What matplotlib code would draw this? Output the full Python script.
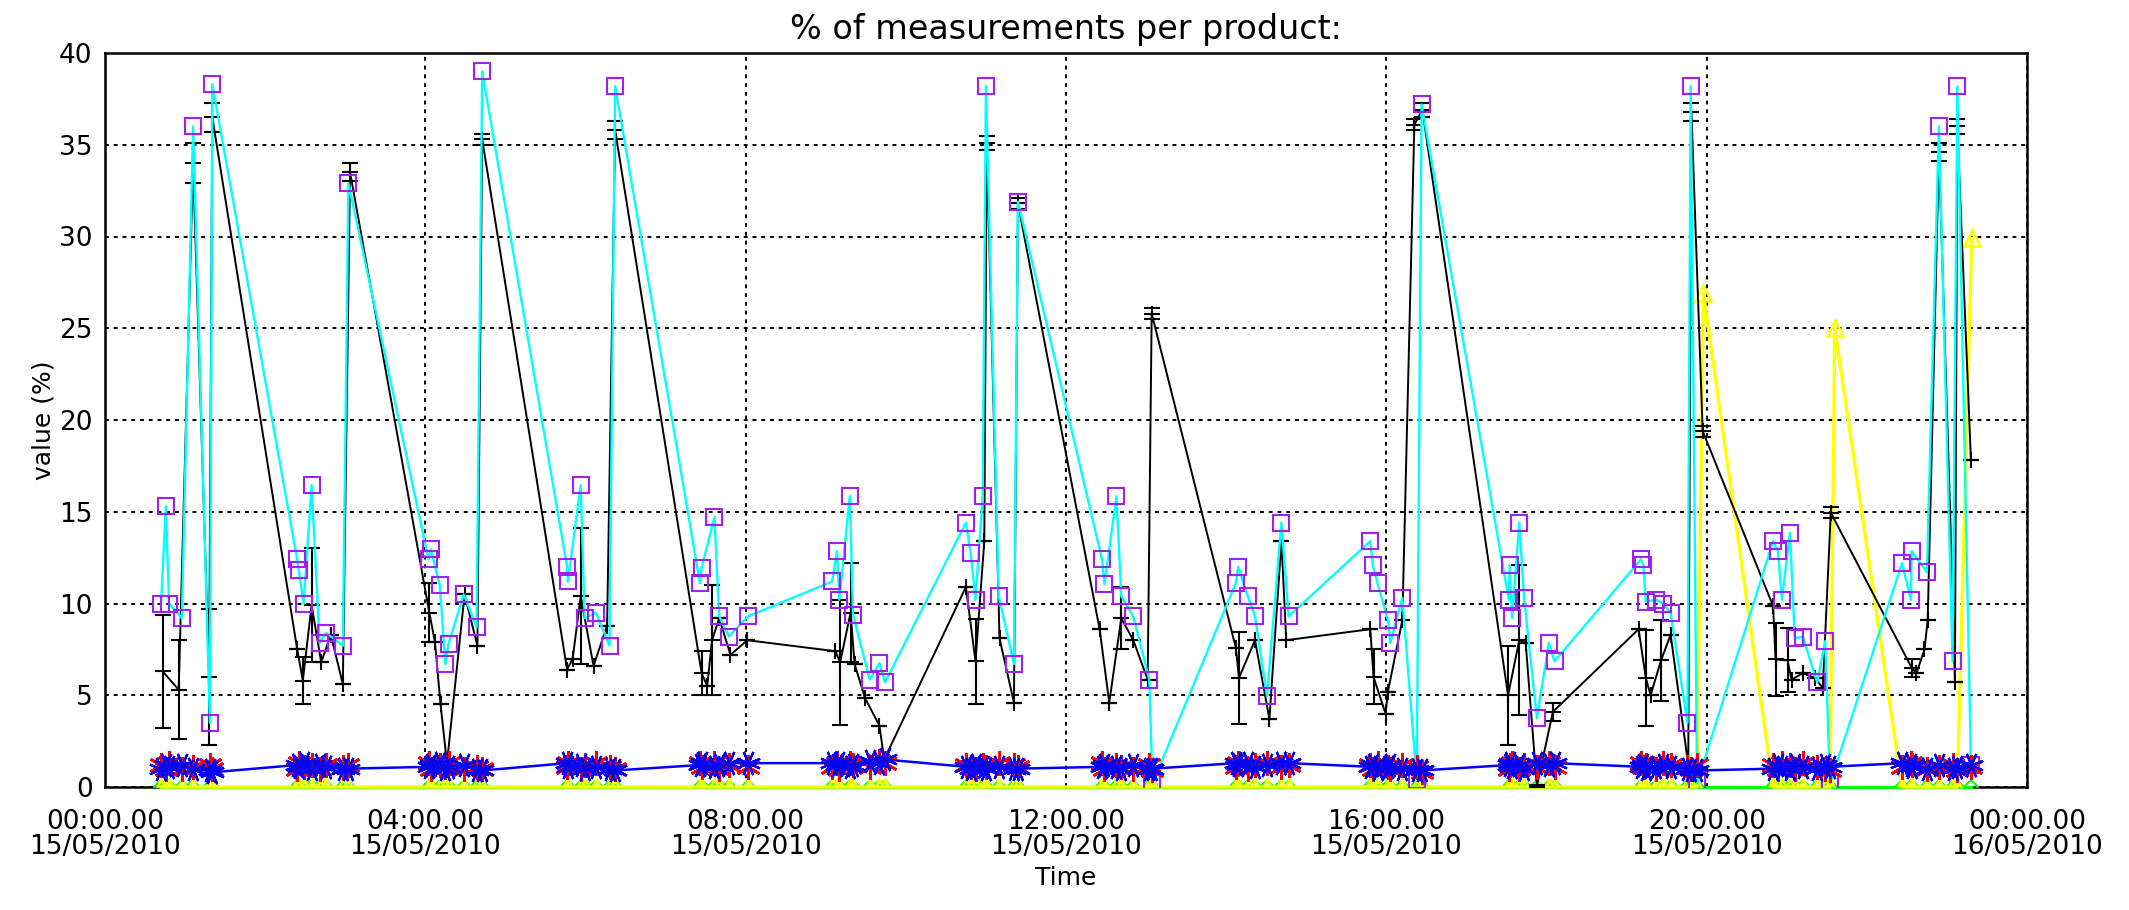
import numpy as np
import pandas as pd
import matplotlib
matplotlib.use("Agg")
import matplotlib.pyplot as plt
import matplotlib.dates as mdates

# ---------------- data (hours after 00:00 15/05/2010) ----------------
cyan_t = [0.70, 0.76, 0.80, 0.96, 1.10, 1.31, 1.34,
          2.40, 2.42, 2.48, 2.58, 2.68, 2.76, 2.97, 3.04,
          4.04, 4.07, 4.18, 4.25, 4.29, 4.48, 4.64, 4.71,
          5.77, 5.78, 5.94, 5.99, 6.13, 6.30, 6.37,
          7.43, 7.45, 7.61, 7.67, 7.79, 8.03,
          9.08, 9.14, 9.17, 9.30, 9.34, 9.55, 9.67, 9.74,
          10.75, 10.81, 10.87, 10.96, 11.00, 11.16, 11.35, 11.40,
          12.45, 12.48, 12.63, 12.69, 12.84, 13.04, 13.08,
          14.12, 14.15, 14.27, 14.36, 14.51, 14.69, 14.78,
          15.80, 15.83, 15.89, 16.02, 16.05, 16.20, 16.38, 16.44,
          17.53, 17.54, 17.57, 17.66, 17.72, 17.88, 18.03, 18.10,
          19.18, 19.21, 19.24, 19.37, 19.46, 19.55, 19.76, 19.80, 19.88,
          20.83, 20.89, 20.94, 21.04, 21.10, 21.20, 21.38, 21.48, 21.54,
          22.44, 22.55, 22.56, 22.75, 22.90, 23.07, 23.13, 23.30]
cyan_v = [10.0, 15.3, 10.0, 9.2, 36.0, 3.5, 38.3,
          12.4, 11.8, 10.0, 16.45, 7.85, 8.4, 7.7, 32.9,
          12.4, 12.95, 11.0, 6.7, 7.8, 10.5, 8.7, 39.0,
          12.0, 11.2, 16.45, 9.2, 9.5, 7.7, 38.2,
          11.1, 11.95, 14.7, 9.3, 8.2, 9.3,
          11.2, 12.85, 10.2, 15.85, 9.4, 5.85, 6.75, 5.7,
          14.4, 12.75, 10.2, 15.85, 38.2, 10.4, 6.7, 31.9,
          12.4, 11.05, 15.85, 10.4, 9.3, 5.85, 0.2,
          11.1, 12.0, 10.4, 9.3, 4.95, 14.4, 9.3,
          13.4, 12.1, 11.1, 9.1, 7.85, 10.3, 0.4, 37.2,
          10.2, 12.1, 9.2, 14.4, 10.3, 3.75, 7.85, 6.85,
          12.4, 12.1, 10.1, 10.2, 10.0, 9.5, 3.5, 38.2, 0.2,
          13.4, 12.85, 10.2, 13.85, 8.1, 8.2, 5.7, 7.95, 0.2,
          12.2, 10.2, 12.85, 11.7, 36.0, 6.85, 38.2, 1.2]

black_t = [0.72, 0.92, 1.10, 1.30, 1.34,
           2.40, 2.47, 2.58, 2.70, 2.82, 2.97, 3.06,
           4.05, 4.12, 4.19, 4.27, 4.49, 4.65, 4.71,
           5.77, 5.84, 5.94, 6.10, 6.27, 6.37,
           7.45, 7.52, 7.58, 7.67, 7.81, 8.02,
           9.12, 9.18, 9.31, 9.36, 9.49, 9.67, 9.73,
           10.75, 10.87, 10.98, 11.01, 11.17, 11.35, 11.40,
           12.42, 12.54, 12.69, 12.84, 13.02, 13.07,
           14.12, 14.16, 14.36, 14.54, 14.69, 14.75,
           15.80, 15.84, 15.99, 16.02, 16.20, 16.35, 16.45,
           17.52, 17.66, 17.74, 17.88, 18.08,
           19.15, 19.24, 19.30, 19.43, 19.55, 19.77, 19.81, 19.95,
           20.83, 20.86, 21.01, 21.06, 21.20, 21.35, 21.45, 21.55,
           22.56, 22.62, 22.72, 22.76, 22.90, 23.04, 23.10, 23.13, 23.30]
black_v = [6.3, 5.3, 34.0, 6.0, 36.5,
           7.5, 5.8, 9.9, 6.8, 8.3, 5.6, 33.5,
           9.5, 7.9, 4.5, 1.3, 10.5, 7.7, 35.3,
           6.4, 7.0, 10.4, 6.6, 8.8, 35.8,
           6.2, 5.5, 8.0, 9.2, 7.2, 8.0,
           7.4, 6.8, 9.5, 6.7, 4.85, 3.35, 1.5,
           10.9, 6.85, 13.4, 35.1, 8.1, 4.6, 31.8,
           8.6, 4.6, 9.2, 8.0, 5.85, 25.8,
           7.6, 5.95, 8.0, 3.7, 13.4, 8.0,
           8.6, 6.0, 4.0, 5.2, 9.1, 36.1, 36.9,
           5.0, 8.0, 7.85, 0.05, 4.1,
           8.6, 5.95, 5.0, 6.9, 8.3, 1.2, 36.8, 19.4,
           9.85, 6.95, 6.9, 5.85, 6.2, 5.95, 5.4, 14.95,
           6.5, 6.2, 7.5, 9.1, 34.6, 15.0, 5.7, 36.0, 17.8]
black_err = [3.1, 2.7, 1.1, 3.7, 0.8,
             0.0, 1.3, 3.1, 0.0, 0.0, 0.0, 0.5,
             1.6, 0.0, 0.0, 0.0, 0.0, 0.0, 0.3,
             0.0, 0.0, 3.7, 0.0, 0.0, 0.5,
             1.2, 0.0, 3.0, 0.0, 0.0, 0.0,
             0.0, 3.4, 2.7, 0.0, 0.0, 0.0, 0.0,
             0.0, 2.3, 0.0, 0.4, 0.0, 0.0, 0.3,
             0.0, 0.0, 1.7, 0.0, 0.0, 0.3,
             0.0, 2.5, 0.0, 0.0, 0.0, 0.0,
             0.0, 1.5, 0.0, 0.0, 0.0, 0.3, 0.4,
             2.7, 4.1, 0.0, 0.05, 0.5,
             0.0, 2.6, 0.0, 2.2, 0.0, 0.0, 0.5, 0.3,
             0.0, 2.0, 1.75, 0.0, 0.0, 0.0, 0.0, 0.3,
             0.5, 0.0, 0.0, 0.0, 0.5, 0.0, 0.0, 0.4, 0.0]

blue_v = [1.0, 1.2, 1.1, 1.2, 1.0, 0.9, 0.8,
          1.2, 1.1, 1.3, 1.0, 1.2, 1.1, 1.0, 1.0,
          1.1, 1.2, 1.3, 1.0, 1.1, 1.2, 0.9, 0.9,
          1.3, 1.1, 1.2, 1.0, 1.1, 1.0, 0.9,
          1.2, 1.3, 1.1, 1.2, 1.3, 1.3,
          1.3, 1.2, 1.3, 1.1, 1.2, 1.4, 1.3, 1.5,
          1.1, 1.0, 1.2, 1.1, 1.0, 1.1, 1.0, 1.0,
          1.1, 1.2, 1.1, 1.0, 1.2, 1.0, 1.0,
          1.3, 1.2, 1.3, 1.1, 1.2, 1.3, 1.3,
          1.1, 1.2, 1.0, 1.1, 1.2, 1.0, 0.9, 0.9,
          1.2, 1.3, 1.1, 1.2, 1.0, 1.3, 1.2, 1.3,
          1.1, 1.2, 1.0, 1.1, 1.2, 1.1, 1.0, 0.9, 0.9,
          1.0, 1.2, 1.1, 1.0, 1.2, 1.1, 1.0, 1.2, 1.1,
          1.3, 1.2, 1.1, 1.0, 1.2, 1.0, 1.1, 1.2]
red_v = [1.2, 1.0, 1.3, 1.0, 1.1, 1.2, 1.0,
         1.0, 1.3, 1.1, 1.2, 1.0, 1.2, 1.1, 1.2,
         1.3, 1.0, 1.2, 1.1, 1.3, 1.0, 1.1, 1.0,
         1.1, 1.3, 1.0, 1.2, 1.3, 1.1, 1.0,
         1.3, 1.1, 1.3, 1.0, 1.2, 1.1,
         1.1, 1.3, 1.0, 1.3, 1.2, 1.1, 1.4, 1.3,
         1.2, 1.1, 1.0, 1.2, 1.1, 1.3, 1.2, 1.1,
         1.3, 1.0, 1.2, 1.1, 1.0, 1.2, 0.9,
         1.1, 1.3, 1.0, 1.2, 1.3, 1.1, 1.2,
         1.2, 1.0, 1.3, 1.1, 1.0, 1.2, 1.1, 0.8,
         1.0, 1.2, 1.3, 1.0, 1.2, 1.1, 1.3, 1.1,
         1.3, 1.1, 1.2, 1.0, 1.3, 1.2, 1.1, 1.0, 1.2,
         1.2, 1.0, 1.3, 1.2, 1.0, 1.3, 1.1, 1.0, 0.9,
         1.1, 1.3, 1.2, 1.0, 1.1, 1.2, 0.9, 1.1]

yellow_spike_t = [19.96, 21.60, 23.31]
yellow_spike_v = [26.9, 25.0, 29.9]

y_ticks = [0, 5, 10, 15, 20, 25, 30, 35, 40]
title = "% of measurements per product:"
x_title = "Time"
y_title = "value (%)"

# ---------------- helpers ----------------
base = np.datetime64("2010-05-15T00:00")


def to_time(hours):
    secs = np.round(np.asarray(hours, dtype=float) * 3600).astype("int64")
    return base + secs.astype("timedelta64[s]")


W, H = 2129, 910
fig = plt.figure(figsize=(W / 100, H / 100), dpi=100)
L, R, T, B = 105, 2027, 53, 787
ax = fig.add_axes([L / W, 1 - B / H, (R - L) / W, (B - T) / H])

tc = to_time(cyan_t)
tb = to_time(black_t)
zeros_c = np.zeros(len(cyan_t))

# green (zero line, mostly hidden under yellow)
ax.plot(tc, zeros_c, color="#00ff00", lw=2.2, zorder=3, clip_on=False)
ax.plot(tc, zeros_c, linestyle="none", marker="D", ms=7, mfc="none",
        mec="#00ff00", mew=1.4, zorder=3)

# yellow
y_zero_t = list(cyan_t[:-1])
yt = y_zero_t + yellow_spike_t
yv = [0.0] * len(y_zero_t) + yellow_spike_v
order = np.argsort(yt)
ytt = to_time(np.array(yt)[order])
yvv = np.array(yv)[order]
ax.plot(ytt, yvv, color="#ffff00", lw=2.4, zorder=3.2, clip_on=False)
ax.plot(ytt, yvv, linestyle="none", marker="^", ms=11, mfc="none",
        mec="#ffff00", mew=1.8, zorder=3.2)

# black with error bars
ax.errorbar(tb, black_v, yerr=black_err, color="black", lw=1.4, marker="+",
            ms=12, mew=1.5, ecolor="black", elinewidth=1.5, capsize=6,
            capthick=1.5, zorder=4)

# cyan with purple squares
ax.plot(tc, cyan_v, color="#00ffff", lw=1.7, zorder=5)
ax.plot(tc, cyan_v, linestyle="none", marker="s", ms=11, mfc="none",
        mec="#a020f0", mew=1.5, zorder=6)

# red and blue asterisks
ax.plot(tc, red_v, linestyle="none", marker=(6, 2, 0), ms=18, mec="#ff0000",
        mew=2.0, zorder=7)
ax.plot(tc, blue_v, color="#0000ff", lw=1.8, zorder=8)
ax.plot(tc, blue_v, linestyle="none", marker=(8, 2, 22), ms=18,
        mec="#0000ff", mew=1.6, zorder=8)

# ---------------- axes ----------------
ax.set_xlim(np.datetime64("2010-05-15T00:00"), np.datetime64("2010-05-16T00:00"))
ax.set_ylim(0, 40)
ax.set_yticks(y_ticks)
ax.xaxis.set_major_locator(mdates.HourLocator(byhour=[0, 4, 8, 12, 16, 20]))
ax.xaxis.set_major_formatter(mdates.DateFormatter("%H:%M.%S\n%d/%m/%Y"))
ax.grid(True, color="black", linestyle=(0, (2, 2.5)), linewidth=1.4)
ax.set_axisbelow(True)
ax.tick_params(axis="both", length=0, labelsize=19)
ax.tick_params(axis="x", pad=16)
ax.tick_params(axis="y", pad=9)
for lab in ax.get_xticklabels():
    lab.set_linespacing(0.95)
for sp in ax.spines.values():
    sp.set_linewidth(1.8)

ax.set_title(title, fontsize=24, pad=10)
ax.set_xlabel(x_title, fontsize=18)
ax.xaxis.set_label_coords(0.5, -0.108)
ax.set_ylabel(y_title, fontsize=18)
ax.yaxis.set_label_coords(-0.026, 0.5)

fig.savefig("out.png", dpi=100)
